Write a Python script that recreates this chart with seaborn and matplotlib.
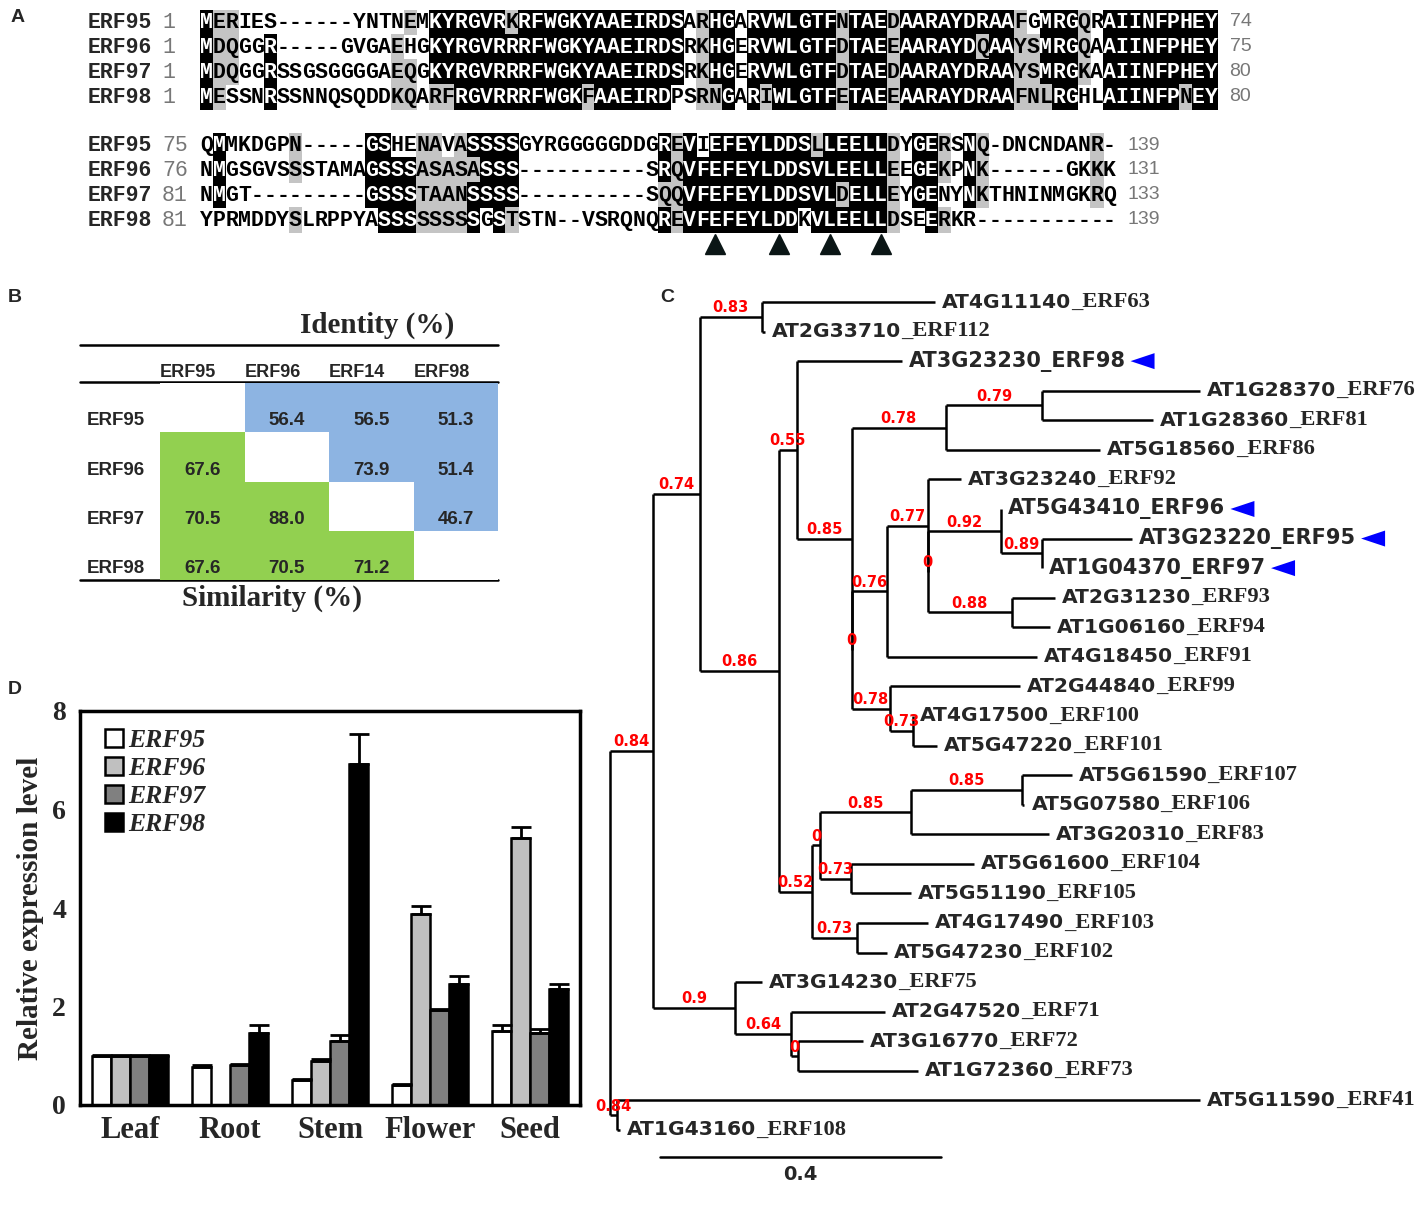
import matplotlib
matplotlib.use("Agg")
import matplotlib.pyplot as plt
from matplotlib.patches import Rectangle, Polygon, Patch
from matplotlib.colors import ListedColormap
import numpy as np
import pandas as pd
import seaborn as sns

# ---------------- data ----------------
# A : protein alignment, two blocks
seq_names = ["ERF95", "ERF96", "ERF97", "ERF98"]
block1_start = [1, 1, 1, 1]
block1_end = [74, 75, 80, 80]
block1 = [
    "MERIES------YNTNEMKYRGVRKRFWGKYAAEIRDSARHGARVWLGTFNTAEDAARAYDRAAFGMRGQRAIINFPHEY",
    "MDQGGR-----GVGAEHGKYRGVRRRFWGKYAAEIRDSRKHGERVWLGTFDTAEEAARAYDQAAYSMRGQAAIINFPHEY",
    "MDQGGRSSGSGGGGAEQGKYRGVRRRFWGKYAAEIRDSRKHGERVWLGTFDTAEDAARAYDRAAYSMRGKAAIINFPHEY",
    "MESSNRSSNNQSQDDKQARFRGVRRRFWGKFAAEIRDPSRNGARIWLGTFETAEEAARAYDRAAFNLRGHLAIINFPNEY",
]
block2_start = [75, 76, 81, 81]
block2_end = [139, 131, 133, 139]
block2 = [
    "QMMKDGPN-----GSHENAVASSSSGYRGGGGGDDGREVIEFEYLDDSLLEELLDYGERSNQ-DNCNDANR-",
    "NMGSGVSSSTAMAGSSSASASASSS----------SRQVFEFEYLDDSVLEELLEEGEKPNK------GKKK",
    "NMGT---------GSSSTAANSSSS----------SQQVFEFEYLDDSVLDELLEYGENYNKTHNINMGKRQ",
    "YPRMDDYSLRPPYASSSSSSSSGSTSTN--VSRQNQREVFEFEYLDDKVLEELLDSEERKR-----------",
]
motif_cols = [41, 46, 50, 54]          # arrowheads under block 2
similar_pairs = ["DE", "KR", "QR", "QK", "QE", "EK", "ND", "NH", "NS", "AS", "ST",
                 "HY", "FY", "FW", "WY", "IV", "IL", "IM", "LM", "LV", "MV"]

# B : identity (upper) / similarity (lower) table
tbl_cols = ["ERF95", "ERF96", "ERF14", "ERF98"]
tbl_rows = ["ERF95", "ERF96", "ERF97", "ERF98"]
tbl_vals = [[None, 56.4, 56.5, 51.3],
            [67.6, None, 73.9, 51.4],
            [70.5, 88.0, None, 46.7],
            [67.6, 70.5, 71.2, None]]

# C : tree (newick, support values as node names)
newick = ("((((AT4G11140_ERF63:0.246,AT2G33710_ERF112:0.004)0.83:0.088,"
          "((AT3G23230_ERF98:0.149,(((AT1G28370_ERF76:0.225,AT1G28360_ERF81:0.158)0.79:0.137,"
          "AT5G18560_ERF86:0.219)0.78:0.134,(((AT3G23240_ERF92:0.047,((AT5G43410_ERF96:0.0,"
          "(AT3G23220_ERF95:0.128,AT1G04370_ERF97:0.0)0.89:0.058)0.92:0.105,"
          "(AT2G31230_ERF93:0.061,AT1G06160_ERF94:0.054)0.88:0.120)0:0.0)0.77:0.058,"
          "AT4G18450_ERF91:0.214)0.76:0.050,(AT2G44840_ERF99:0.186,"
          "(AT4G17500_ERF100:0.0,AT5G47220_ERF101:0.034)0.73:0.033)0.78:0.054)0:0.0)0.85:0.078)0.55:0.026,"
          "((((AT5G61590_ERF107:0.070,AT5G07580_ERF106:0.003)0.85:0.158,AT3G20310_ERF83:0.196)0.85:0.130,"
          "(AT5G61600_ERF104:0.175,AT5G51190_ERF105:0.085)0.73:0.044)0:0.011,"
          "(AT4G17490_ERF103:0.101,AT5G47230_ERF102:0.043)0.73:0.063)0.52:0.048)0.86:0.112)0.74:0.067,"
          "(AT3G14230_ERF75:0.038,(AT2G47520_ERF71:0.134,(AT3G16770_ERF72:0.093,"
          "AT1G72360_ERF73:0.171)0:0.009)0.64:0.080)0.9:0.117)0.84:0.061,"
          "(AT5G11590_ERF41:0.830,AT1G43160_ERF108:0.004)0.84:0.010);")
highlight = ["AT3G23230_ERF98", "AT5G43410_ERF96", "AT3G23220_ERF95", "AT1G04370_ERF97"]
scale_len = 0.4

# D : relative expression
tissues = ["Leaf", "Root", "Stem", "Flower", "Seed"]
genes = ["ERF95", "ERF96", "ERF97", "ERF98"]
expr = {"ERF95": [1.00, 0.78, 0.50, 0.40, 1.50],
        "ERF96": [1.00, 0.00, 0.90, 3.87, 5.43],
        "ERF97": [1.00, 0.82, 1.30, 1.93, 1.47],
        "ERF98": [1.00, 1.47, 6.92, 2.45, 2.35]}
err = {"ERF95": [0.02, 0.03, 0.02, 0.03, 0.12],
       "ERF96": [0.02, 0.00, 0.04, 0.18, 0.22],
       "ERF97": [0.02, 0.02, 0.13, 0.02, 0.08],
       "ERF98": [0.02, 0.15, 0.62, 0.16, 0.10]}
bar_colors = ["white", "#c0c0c0", "#808080", "black"]

MONO, SANS, SERIF, DJ = "Liberation Mono", "Liberation Sans", "Liberation Serif", "DejaVu Sans"
W, H = 1428, 1205

sns.set_style("white")
fig = plt.figure(figsize=(W / 100, H / 100), dpi=100)
ax = fig.add_axes([0, 0, 1, 1])
ax.set_xlim(0, W)
ax.set_ylim(H, 0)
ax.axis("off")

for lab, (x, y) in zip("ABCD", [(18, 18), (15, 298), (667, 297), (15, 690)]):
    ax.text(x, y, lab, family=SANS, weight="bold", fontsize=14, ha="center", va="center")


# ---------------- A ----------------
def similar(a, b):
    return a + b in similar_pairs or b + a in similar_pairs


def shade_column(col):
    out = [""] * len(col)
    res = [c for c in col if c != "-"]
    if not res:
        return out
    best = max(sorted(set(res)), key=lambda c: res.count(c))
    if res.count(best) >= 3:
        for i, c in enumerate(col):
            if c == best:
                out[i] = "black"
            elif c != "-" and similar(c, best):
                out[i] = "gray"
        return out
    grp = []
    for cand in sorted(set(res)):
        g = [i for i, c in enumerate(col) if c != "-" and (c == cand or similar(c, cand))]
        if len(g) > len(grp):
            grp = g
    if len(grp) >= 3:
        for i in grp:
            out[i] = "gray"
    return out


cw, rh, sx0 = 12.72, 24.9, 200
for seqs, starts, ends, y0 in [(block1, block1_start, block1_end, 22),
                               (block2, block2_start, block2_end, 145)]:
    ncol = len(seqs[0])
    shades = [shade_column([s[c] for s in seqs]) for c in range(ncol)]
    for r, s in enumerate(seqs):
        y = y0 + r * rh
        ax.text(88, y + 6, seq_names[r], family=MONO, weight="bold", fontsize=15.5, va="baseline")
        ax.text(162, y + 6, str(starts[r]), family=MONO, fontsize=15.5, color="#777777", va="baseline")
        for c, ch in enumerate(s):
            kind = shades[c][r]
            if kind:
                ax.add_patch(Rectangle((sx0 + c * cw, y - rh / 2), cw + 0.6, rh + 0.6,
                                       facecolor="black" if kind == "black" else "#c4c4c4",
                                       edgecolor="none"))
            ax.text(sx0 + (c + 0.5) * cw, y + 6, ch, family=MONO, weight="bold", fontsize=15.5,
                    ha="center", va="baseline", color="white" if kind == "black" else "black")
        ax.text(sx0 + ncol * cw + 12, y, str(ends[r]), family=SANS, fontsize=14,
                color="#777777", va="center")
ax.plot([sx0 + (c - 0.5) * cw for c in motif_cols], [244] * len(motif_cols), ls="none",
        marker="^", ms=15, color="#0b1616")

# ---------------- B ----------------
axb = fig.add_axes([160 / W, 1 - 580 / H, 338 / W, 197 / H])
code = np.array([[0 if v is None else (1 if j > i else 2) for j, v in enumerate(row)]
                 for i, row in enumerate(tbl_vals)])
sns.heatmap(code, cmap=ListedColormap(["white", "#8db4e2", "#92d050"]), vmin=-0.5, vmax=2.5,
            cbar=False, xticklabels=False, yticklabels=False, linewidths=0, ax=axb)
axb.axis("off")
for i, row in enumerate(tbl_vals):
    axb.text(-0.52, i + 0.77, tbl_rows[i], family=SANS, weight="bold", fontsize=13.5,
             ha="center", va="center", clip_on=False)
    for j, v in enumerate(row):
        if v is not None:
            axb.text(j + 0.5, i + 0.77, f"{v:.1f}", family=SANS, weight="bold", fontsize=13.5,
                     ha="center", va="center", clip_on=False)
for j, name in enumerate(tbl_cols):
    axb.text(j + 0.33, -0.22, name, family=SANS, weight="bold", fontsize=13,
             ha="center", va="center", clip_on=False)
for yy in [345, 382, 580]:
    ax.plot([80, 498], [yy, yy], color="black", lw=1.8)
ax.text(377, 325, "Identity (%)", family=SERIF, weight="bold", fontsize=21, ha="center", va="center")
ax.text(272, 598, "Similarity (%)", family=SERIF, weight="bold", fontsize=21, ha="center", va="center")


# ---------------- C ----------------
def parse_newick(s):
    pos = 0

    def node():
        nonlocal pos
        kids = []
        if s[pos] == "(":
            pos += 1
            kids.append(node())
            while s[pos] == ",":
                pos += 1
                kids.append(node())
            pos += 1
        st = pos
        while s[pos] not in ":,);":
            pos += 1
        name = s[st:pos]
        length = 0.0
        if s[pos] == ":":
            pos += 1
            st = pos
            while s[pos] not in ",);":
                pos += 1
            length = float(s[st:pos])
        return {"name": name, "len": length, "kids": kids}

    return node()


tree = parse_newick(newick)
root_x, ppu, leaf_y0, leaf_dy = 610, 702.5, 302, 29.57
leaves = []


def layout(n, x):
    n["x"] = x
    if not n["kids"]:
        n["y"] = leaf_y0 + len(leaves) * leaf_dy
        leaves.append(n)
        return
    for k in n["kids"]:
        layout(k, x + k["len"] * ppu)
    n["y"] = (n["kids"][0]["y"] + n["kids"][-1]["y"]) / 2


def draw(n):
    if not n["kids"]:
        return
    ax.plot([n["x"], n["x"]], [n["kids"][0]["y"], n["kids"][-1]["y"]], color="black", lw=1.8,
            solid_capstyle="butt")
    for k in n["kids"]:
        ax.plot([n["x"], k["x"]], [k["y"], k["y"]], color="black", lw=1.8, solid_capstyle="butt")
        if k["kids"] and k["name"]:
            ax.text((n["x"] + k["x"]) / 2, k["y"] - 9, k["name"], color="#ff0000", family=DJ,
                    weight="bold", fontsize=10.5, ha="center", va="center")
        draw(k)


layout(tree, root_x)
draw(tree)

marked = []
for lf in leaves:
    x, y, name = lf["x"] + 7, lf["y"], lf["name"]
    if name in highlight:
        t = ax.text(x, y, name, family=DJ, weight="bold", fontsize=15, va="center")
        marked.append((t, y))
    else:
        a, b = name.split("_")
        t = ax.text(x, y, a, family=DJ, weight="bold", fontsize=14.6, va="center")
        ax.annotate("_" + b, xy=(1, 0), xycoords=t, va="bottom", ha="left",
                    fontfamily=SERIF, fontweight="bold", fontsize=16.2)

sb_x0 = 660
ax.plot([sb_x0, sb_x0 + scale_len * ppu], [1157, 1157], color="black", lw=1.8)
ax.text(sb_x0 + scale_len * ppu / 2, 1175, f"{scale_len}", family=DJ, weight="bold",
        fontsize=14, ha="center", va="center")

# ---------------- D ----------------
df = pd.DataFrame([(t, g, v) for g in genes for t, v in zip(tissues, expr[g])],
                  columns=["tissue", "gene", "value"])
axd = fig.add_axes([80 / W, (H - 1105) / H, 500 / W, 394 / H])
sns.barplot(data=df, x="tissue", y="value", hue="gene", order=tissues, hue_order=genes,
            palette=dict(zip(genes, bar_colors)), saturation=1, edgecolor="black",
            linewidth=1.8, width=0.76, gap=0, errorbar=None, legend=False, ax=axd)
for cont, g in zip(axd.containers, genes):
    xs = np.array([b.get_x() + b.get_width() / 2 for b in cont])
    v, e = np.array(expr[g]), np.array(err[g])
    keep = e > 0
    axd.errorbar(xs[keep], v[keep], yerr=[np.zeros(keep.sum()), e[keep]], fmt="none",
                 ecolor="black", elinewidth=2, capsize=7, capthick=2, zorder=3)

axd.set_xlim(-0.5, 4.5)
axd.set_ylim(0, 8)
axd.set_yticks([0, 2, 4, 6, 8])
axd.set_yticks([1, 3, 5, 7], minor=True)
axd.set_xticks([0.5, 1.5, 2.5, 3.5], minor=True)
axd.tick_params(axis="y", which="both", direction="in", length=5, width=1.5, pad=10)
axd.tick_params(axis="x", which="major", length=0, pad=8)
axd.tick_params(axis="x", which="minor", direction="in", length=4, width=1.2)
for lb in axd.get_yticklabels():
    lb.set_fontfamily(SERIF); lb.set_fontweight("bold"); lb.set_fontsize(20)
for lb in axd.get_xticklabels():
    lb.set_fontfamily(SERIF); lb.set_fontweight("bold"); lb.set_fontsize(22)
axd.set_xlabel("")
axd.set_ylabel("Relative expression level", family=SERIF, weight="bold", fontsize=21, labelpad=6)
for sp in axd.spines.values():
    sp.set_visible(True)
    sp.set_linewidth(2.5)
    sp.set_color("black")
handles = [Patch(facecolor=c, edgecolor="black", lw=1.8) for c in bar_colors]
axd.legend(handles, genes, loc="upper left", bbox_to_anchor=(0.05, 0.955), frameon=False,
           borderaxespad=0, borderpad=0, handlelength=0.7, handleheight=0.7, handletextpad=0.2,
           labelspacing=0.2, prop=dict(family=SERIF, weight="bold", style="italic", size=18.5))

# blue arrowheads after highlighted tree labels
fig.canvas.draw()
rend = fig.canvas.get_renderer()
for t, y in marked:
    bb = t.get_window_extent(rend).transformed(ax.transData.inverted())
    x1 = bb.x1 + 5
    ax.add_patch(Polygon([(x1, y), (x1 + 24, y - 8), (x1 + 24, y + 8)], closed=True,
                         facecolor="#0000ff", edgecolor="none"))

fig.savefig("out.png", dpi=100)
